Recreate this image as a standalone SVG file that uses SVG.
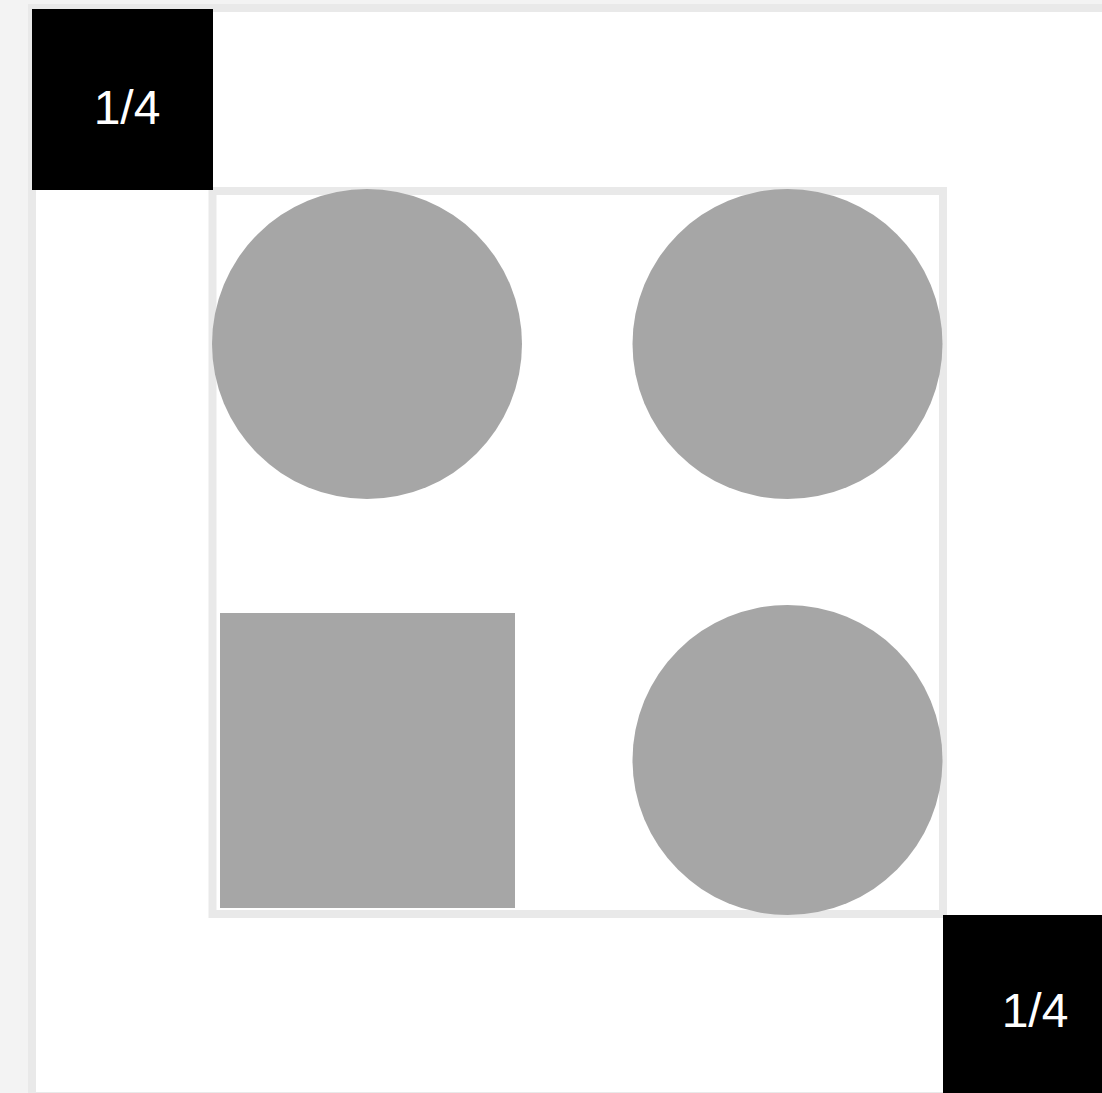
<svg xmlns="http://www.w3.org/2000/svg" width="1102" height="1093" viewBox="0 0 1102 1093">
<style>
.frame{fill:#ffffff;stroke:#e9e9e9;stroke-width:8}
.inner{fill:none;stroke:#e9e9e9;stroke-width:8}
.shape{fill:#a6a6a6}
.tag{fill:#000000}
.lbl{fill:#ffffff;font-family:"Liberation Sans",Arial,sans-serif;font-size:48px;text-anchor:middle}
</style>
<rect x="0" y="0" width="1102" height="1093" fill="#f3f3f3"/>
<g id="outer-frame"><rect class="frame" x="32" y="8" width="1088" height="1088"/></g>
<g id="inner-frame"><rect class="inner" x="212.5" y="191" width="730.5" height="723"/></g>
<g id="circle-top-left"><circle class="shape" cx="367" cy="344" r="155"/></g>
<g id="circle-top-right"><circle class="shape" cx="787.5" cy="344" r="155"/></g>
<g id="square-bottom-left"><rect class="shape" x="220" y="613" width="295" height="295"/></g>
<g id="circle-bottom-right"><circle class="shape" cx="787.5" cy="760" r="155"/></g>
<g id="tag-top-left"><rect class="tag" x="32" y="9" width="181" height="181"/><text class="lbl" x="127" y="124">1/4</text></g>
<g id="tag-bottom-right"><rect class="tag" x="943" y="915" width="181" height="181"/><text class="lbl" x="1035" y="1027">1/4</text></g>
<g id="connectors"/>
</svg>
